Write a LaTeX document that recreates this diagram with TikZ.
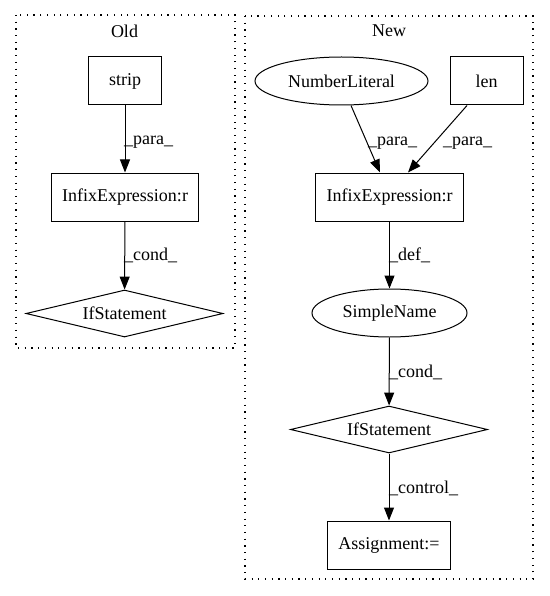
\documentclass[tikz,border=0pt]{standalone}
\usepackage{fontspec}
\setmainfont{Liberation Serif}
\usetikzlibrary{shapes.geometric,arrows.meta,calc}
\begin{document}
\begin{tikzpicture}[x=1pt,y=-1pt,
  every node/.style={font=\fontsize{18}{21}\selectfont},
  box/.style={draw,line width=1pt,rectangle,minimum width=73pt,minimum height=48pt,inner xsep=11pt,inner ysep=0pt},
  ell/.style={draw,line width=1pt,ellipse,inner sep=0pt},
  dia/.style={draw,line width=1pt,diamond,shape aspect=4.2,inner sep=0pt,minimum width=197pt,minimum height=47pt},
  cluster/.style={draw,line width=1.1pt,dash pattern=on 1.2pt off 5.5pt},
  edge/.style={line width=1pt,-{Triangle[length=13pt,width=10pt]}},
  lbl/.style={anchor=west,inner sep=0pt}]
\useasboundingbox (0,0) rectangle (549,596);
% clusters
\draw[cluster] (16,15) rectangle (235,348);
\draw[cluster] (245,16) rectangle (533,579);
\node (toldt) at (124.5,31) {Old};
\node (tnew) at (389,31) {New};
% Old
\node[box] (strip) at (125,81) {strip};
\node[box] (oinf) at (125,197) {InfixExpression:r};
\node[dia] (oif) at (124.5,313.5) {IfStatement};
\draw[edge] (strip) -- (oinf);
\draw[edge] (oinf) -- (oif);
\node[lbl] (l1) at (124,142) {\_para\_};
\node[lbl] (l2) at (124,255) {\_cond\_};
% New
\node[ell,minimum width=173pt,minimum height=48pt] (nl) at (341.5,81) {NumberLiteral};
\node[box] (len) at (486.5,81) {len};
\node[box] (ninf) at (389.5,197) {InfixExpression:r};
\node[ell,minimum width=155pt,minimum height=48pt] (sn) at (389.5,313) {SimpleName};
\node[dia] (nif) at (389,429.5) {IfStatement};
\node[box] (asg) at (389,545) {Assignment:=};
\draw[edge] ($(nl.south)+(9.5,0)$) -- ($(ninf.north)+(-9.5,0)$);
\draw[edge] ($(len.south)+(-19.5,0)$) -- ($(ninf.north)+(18.5,0)$);
\draw[edge] (ninf) -- (sn);
\draw[edge] (sn) -- (nif);
\draw[edge] (nif) -- (asg);
\node[lbl] (l3) at (368,143) {\_para\_};
\node[lbl] (l4) at (443,143) {\_para\_};
\node[lbl] (l5) at (389,255) {\_def\_};
\node[lbl] (l6) at (389,372) {\_cond\_};
\node[lbl] (l7) at (389,488) {\_control\_};
\end{tikzpicture}
\end{document}
